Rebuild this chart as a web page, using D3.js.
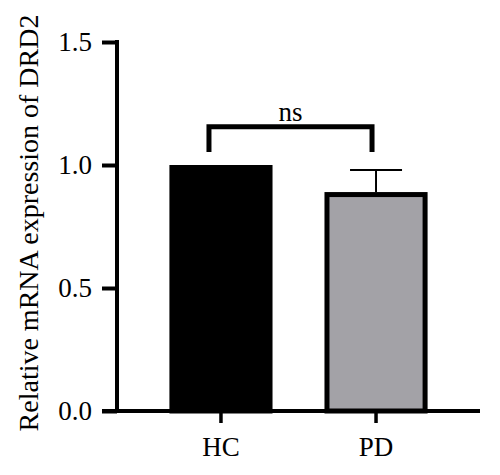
<!DOCTYPE html>
<html>
<head>
<meta charset="utf-8">
<script src="https://cdn.jsdelivr.net/npm/d3@7"></script>
<style>
  body { margin: 0; background: #fff; }
  svg text { font-family: "Liberation Serif", "Times New Roman", Times, "DejaVu Serif", serif; fill: #000; }
</style>
</head>
<body>
<div id="chart"></div>
<script>
// data
var groups = ["HC", "PD"];
var means = [1.0, 0.89];
var errors = [0, 0.09];
var fills = ["#000000", "#a3a2a7"];
var yTicks = [0.0, 0.5, 1.0, 1.5];
var sigLabel = "ns";
var sigLevel = 1.155;
var sigLegs = 1.053;

var svg = d3.select("#chart").append("svg")
    .attr("width", 500)
    .attr("height", 475);

var y = d3.scaleLinear().domain([0, 1.5]).range([411, 42]);
var x = d3.scaleBand().domain(groups).range([117, 480])
    .paddingInner(0.335).paddingOuter(0.338);

// y axis
var yAxis = d3.axisLeft(y).tickValues(yTicks)
    .tickFormat(d3.format(".1f")).tickSize(15).tickPadding(10);
var gy = svg.append("g").attr("transform", "translate(117,0)").call(yAxis);
gy.attr("font-family", null);
gy.select(".domain").attr("d", "M0," + (y(1.5) - 2) + "V" + (y(0) + 2))
    .attr("stroke-width", 4);
gy.selectAll(".tick line").attr("stroke-width", 4);
gy.selectAll(".tick text").style("font-size", "27px");

// bars
svg.selectAll("rect.bar").data(groups).enter().append("rect")
    .attr("class", "bar")
    .attr("x", function(d) { return x(d) + 2.5; })
    .attr("y", function(d, i) { return y(means[i]) + 2.5; })
    .attr("width", x.bandwidth() - 5)
    .attr("height", function(d, i) { return y(0) - y(means[i]) - 2.5; })
    .attr("fill", function(d, i) { return fills[i]; })
    .attr("stroke", "#000")
    .attr("stroke-width", 5);

// error bars
groups.forEach(function(g, i) {
    if (!errors[i]) return;
    var cx = x(g) + x.bandwidth() / 2;
    svg.append("line")
        .attr("x1", cx).attr("x2", cx)
        .attr("y1", y(means[i])).attr("y2", y(means[i] + errors[i]))
        .attr("stroke", "#000").attr("stroke-width", 2);
    svg.append("line")
        .attr("x1", cx - 26).attr("x2", cx + 26)
        .attr("y1", y(means[i] + errors[i])).attr("y2", y(means[i] + errors[i]))
        .attr("stroke", "#000").attr("stroke-width", 2);
});

// x axis
var xAxis = d3.axisBottom(x).tickSize(12).tickPadding(14);
var gx = svg.append("g").attr("transform", "translate(0," + y(0) + ")").call(xAxis);
gx.attr("font-family", null);
gx.select(".domain").attr("d", "M102,0H480").attr("stroke-width", 4);
gx.selectAll(".tick line").attr("stroke-width", 3.5);
gx.selectAll(".tick text").style("font-size", "27px");

// significance bracket
var bx1 = x("HC") + x.bandwidth() / 2 - 12;
var bx2 = x("PD") + x.bandwidth() / 2 - 4;
svg.append("path")
    .attr("d", "M" + bx1 + "," + y(sigLegs) + "V" + y(sigLevel) + "H" + bx2 + "V" + y(sigLegs))
    .attr("fill", "none").attr("stroke", "#000").attr("stroke-width", 5);
svg.append("text")
    .attr("x", (bx1 + bx2) / 2)
    .attr("y", y(sigLevel) - 6)
    .attr("text-anchor", "middle")
    .style("font-size", "27px")
    .text(sigLabel);

// y title
svg.append("text")
    .attr("transform", "translate(38,223) rotate(-90)")
    .attr("text-anchor", "middle")
    .style("font-size", "28px")
    .text("Relative mRNA expression of DRD2");
</script>
</body>
</html>
